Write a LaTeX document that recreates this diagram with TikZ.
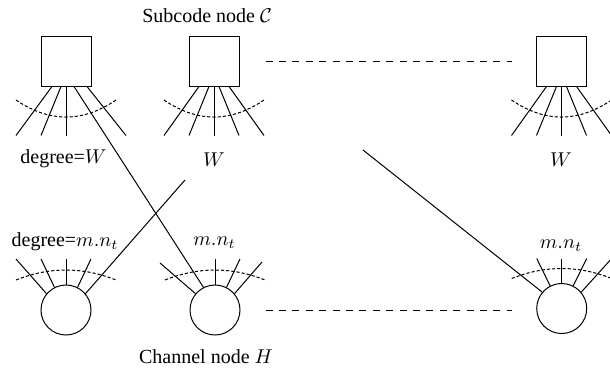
\documentclass[tikz,border=0pt]{standalone}
\usepackage{fontspec}
\setmainfont{Liberation Serif}
\usetikzlibrary{calc}
\begin{document}
\begin{tikzpicture}[x=0.5pt,y=-0.5pt,line width=0.5pt,
  subcode/.style={draw,rectangle,minimum size=25pt,inner sep=0pt},
  channel/.style={draw,circle,minimum size=25pt,inner sep=0pt},
  edge/.style={line width=0.5pt},
  socket/.style={line width=0.5pt,dash pattern=on 1.6pt off 1pt},
  gap/.style={line width=0.5pt,dash pattern=on 3.5pt off 3.2pt},
  lbl/.style={inner sep=0pt,font=\normalsize}]
\useasboundingbox (0,0) rectangle (610,375);
\clip (0,0) rectangle (610,375);

% subcode nodes
\node[subcode] (b1) at (66,61) {};
\node[subcode] (b2) at (214,61) {};
\node[subcode] (b3) at (561.5,61) {};
% channel nodes
\node[channel] (c1) at (66,310) {};
\node[channel] (c2) at (215,310) {};
\node[channel] (c3) at (561.7,308.5) {};

% labels
\node[lbl] (tsub) at (207,16) {Subcode node $\mathcal{C}$};
\node[lbl] (tw1) at (63.5,159) {degree=$W$};
\node[lbl] (tw2) at (214,160) {$W$};
\node[lbl] (tw3) at (561,160) {$W$};
\node[lbl] (tm1) at (65,242) {degree=$m.n_t$};
\node[lbl] (tm2) at (214.5,243) {$m.n_t$};
\node[lbl] (tm3) at (561,246) {$m.n_t$};
\node[lbl] (tch) at (206,357) {Channel node $H$};

% box 1 edges
\draw[edge] ($(b1.south)+(-14,0)$) -- ($(b1.south)+(-50,49)$);
\draw[edge] ($(b1.south)+(-5,0)$) -- ($(b1.south)+(-25,49)$);
\draw[edge] (b1.south) -- ($(b1.south)+(0,49)$);
\draw[edge] ($(b1.south)+(21,0)$) -- ($(b1.south)+(60,49)$);
% box 2 and box 3 edges
\foreach \b in {b2,b3}{
  \draw[edge] ($(\b.south)+(-15,0)$) -- ($(\b.south)+(-50,49)$);
  \draw[edge] ($(\b.south)+(-5,0)$) -- ($(\b.south)+(-25,49)$);
  \draw[edge] (\b.south) -- ($(\b.south)+(0,49)$);
  \draw[edge] ($(\b.south)+(5,0)$) -- ($(\b.south)+(25,49)$);
  \draw[edge] ($(\b.south)+(15,0)$) -- ($(\b.south)+(50,49)$);
}
% box socket arcs
\foreach \b in {b1,b2,b3}{
  \draw[socket] ($(\b)+(-50,39)$) .. controls ($(\b)+(-16.7,61.7)$) and ($(\b)+(16.7,61.7)$) .. ($(\b)+(50,39)$);
}

% circle 1 edges (fifth is long)
\draw[edge] (c1.140) -- ($(c1)+(-50,-51)$);
\draw[edge] (c1.117) -- ($(c1)+(-25,-51)$);
\draw[edge] (c1.90) -- ($(c1)+(0,-51)$);
\draw[edge] (c1.63) -- ($(c1)+(25,-51)$);
% circle 2 edges (second is long)
\draw[edge] (c2.140) -- ($(c2)+(-55,-47)$);
\draw[edge] (c2.90) -- ($(c2)+(0,-51)$);
\draw[edge] (c2.63) -- ($(c2)+(25,-51)$);
\draw[edge] (c2.40) -- ($(c2)+(47,-48)$);
% circle 3 edges (first is long)
\draw[edge] (c3.117) -- ($(c3)+(-25,-50)$);
\draw[edge] (c3.90) -- ($(c3)+(0,-50)$);
\draw[edge] (c3.63) -- ($(c3)+(25,-50)$);
\draw[edge] (c3.40) -- ($(c3)+(50,-50)$);
% circle socket arcs
\foreach \c in {c1,c2,c3}{
  \draw[socket] ($(\c)+(-50,-30)$) .. controls ($(\c)+(-16.7,-43.3)$) and ($(\c)+(16.7,-43.3)$) .. ($(\c)+(50,-30)$);
}

% long connectors
\coordinate (l2end) at (185,180);
\coordinate (l3start) at (363,150);
\draw[edge] ($(b1.south)+(8,0)$) -- (c2.117);
\draw[edge] (c1.40) -- (l2end);
\draw[edge] (l3start) -- (c3.140);

% gaps
\draw[gap] ($(b2.east)+(26,0)$) -- ($(b3.west)+(-24,0)$);
\draw[gap] ($(c2.east)+(25,0)$) -- ($(c3.west)+(-24,1.5)$);
\end{tikzpicture}
\end{document}
